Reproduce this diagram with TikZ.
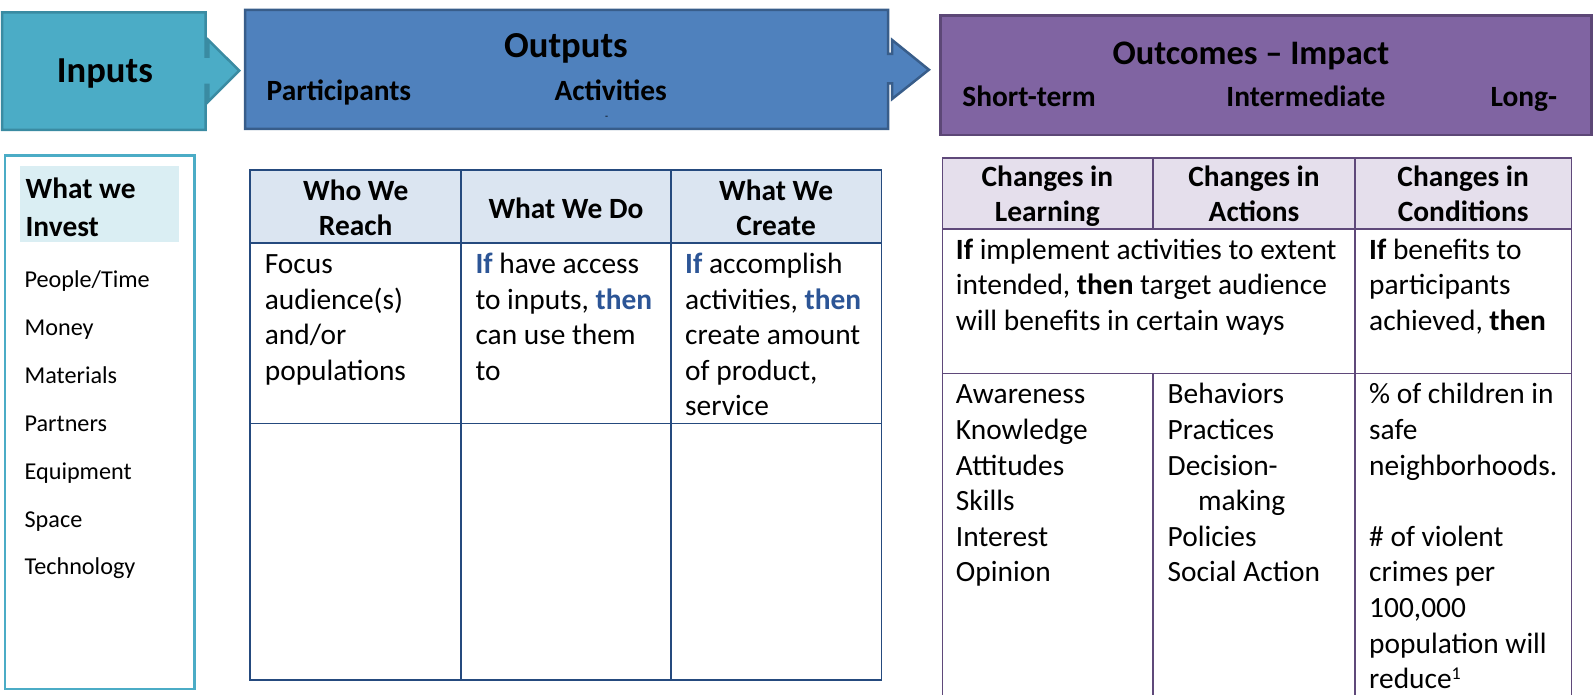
\documentclass[tikz,border=0pt]{standalone}
\usepackage{fontspec}
\setmainfont{Carlito}
\definecolor{inputsteal}{HTML}{4BACC6}
\definecolor{inputsedge}{HTML}{3A8BA2}
\definecolor{outputsblue}{HTML}{4F81BD}
\definecolor{outputsedge}{HTML}{385D8A}
\definecolor{outcomespurple}{HTML}{8064A2}
\definecolor{outcomesedge}{HTML}{5C4776}
\definecolor{investfill}{HTML}{DAEEF3}
\definecolor{bluerule}{HTML}{254A7E}
\definecolor{bluehead}{HTML}{DBE5F1}
\definecolor{purplerule}{HTML}{5F497A}
\definecolor{purplehead}{HTML}{E5DFEC}
\definecolor{ifblue}{HTML}{2C5596}
\newcommand\titlefont{\fontsize{36.6}{44}\selectfont\bfseries}
\newcommand\cellfont{\fontsize{29.4}{35.6}\selectfont}
\newcommand\listfont{\fontsize{24.2}{28}\selectfont}
\newcommand\kw[1]{\textbf{\textcolor{ifblue}{#1}}}

\begin{document}
\begin{tikzpicture}[x=1.018pt,y=-1.018pt,
  title/.style={font=\titlefont,anchor=base,yshift=-11.5pt,inner sep=0pt},
  sub/.style={font=\cellfont\bfseries,anchor=base,yshift=-9.5pt,inner sep=0pt},
  cell/.style={font=\cellfont,anchor=north west,align=left,inner sep=0pt,yshift=15.2pt},
  headcell/.style={font=\cellfont\bfseries,anchor=north,align=center,inner sep=0pt,yshift=15.2pt},
  listitem/.style={font=\listfont,anchor=base west,inner sep=0pt,yshift=-8pt}]
  \useasboundingbox (0,0) rectangle (1568,682);
  \clip (0,0) rectangle (1568,682);
  % arrow boxes
  \filldraw[fill=inputsteal,draw=inputsedge,line width=2.5pt] (2,12.1) -- (201.9,12.1) -- (201.9,55.7) -- (204.6,55.7) -- (204.6,39.3) -- (235.1,69.4) -- (204.6,99.9) -- (204.6,83.5) -- (201.9,83.5) -- (201.9,127.7) -- (2,127.7) -- cycle;
  \filldraw[fill=outputsblue,draw=outputsedge,line width=2.5pt] (240.7,9.8) -- (872.6,9.8) -- (872.6,53) -- (876.5,53) -- (876.5,39.3) -- (912.6,68.5) -- (876.5,97.2) -- (876.5,81.8) -- (872.6,81.8) -- (872.6,126.7) -- (240.7,126.7) -- cycle;
  \filldraw[fill=outcomespurple,draw=outcomesedge,line width=2.5pt] (924,15.4) rectangle (1563.6,132.6);
  \node[title] (inputs) at (103,70) {Inputs};
  \node[title] (outputs) at (556,45) {Outputs};
  \node[sub] (participants) at (333,89) {Participants};
  \node[sub] (activities) at (600,89) {Activities};
  \node[font=\fontsize{10}{12}\selectfont,inner sep=0pt] (dash) at (596,116) {-};
  \node[title,font=\fontsize{34.4}{41}\selectfont\bfseries] (outcomes) at (1229,52) {Outcomes – Impact};
  \node[sub] (shortterm) at (1011,95) {Short-term};
  \node[sub] (intermediate) at (1283,95) {Intermediate};
  \node[sub] (longterm) at (1497,95) {Long-};
  % inputs column
  \draw[inputsteal,line width=2.5pt] (5,153) rectangle (191,677);
  \fill[investfill] (20,163) rectangle (176,238);
  \node[cell,font=\fontsize{29.4}{37.7}\selectfont\bfseries] (invest) at (25,184) {\strut What we\\Invest};
  \node[listitem] (people) at (24,275) {People/Time};
  \node[listitem] (money) at (24,322) {Money};
  \node[listitem] (materials) at (24,369) {Materials};
  \node[listitem] (partners) at (24,416) {Partners};
  \node[listitem] (equipment) at (24,463) {Equipment};
  \node[listitem] (space) at (24,510) {Space};
  \node[listitem] (technology) at (24,557) {Technology};
  % outputs table
  \filldraw[fill=bluehead,draw=bluerule,line width=1.8pt] (246,167) rectangle (866,239);
  \draw[bluerule,line width=1.8pt] (246,167) rectangle (866,668);
  \draw[bluerule,line width=1.8pt] (246,416) -- (866,416);
  \draw[bluerule,line width=1.8pt] (453,167) -- (453,668);
  \draw[bluerule,line width=1.8pt] (659,167) -- (659,668);
  \node[headcell] (reach) at (349.5,187) {\strut Who We\\Reach};
  \node[headcell] (do) at (556,205) {\strut What We Do};
  \node[headcell] (create) at (762.5,187) {\strut What We\\Create};
  \node[cell] (focus) at (260,259) {\strut Focus\\audience(s)\\and/or\\populations};
  \node[cell] (access) at (467,259) {\strut\kw{If} have access\\to inputs, \kw{then}\\can use them\\to};
  \node[cell] (amount) at (673,259) {\strut\kw{If} accomplish\\activities, \kw{then}\\create amount\\of product,\\service};
  % outcomes table
  \filldraw[fill=purplehead,draw=purplerule,line width=1.8pt] (926,155) rectangle (1544,225);
  \draw[purplerule,line width=1.8pt] (926,155) rectangle (1544,700);
  \draw[purplerule,line width=1.8pt] (926,367) -- (1544,367);
  \draw[purplerule,line width=1.8pt] (1133,155) -- (1133,225);
  \draw[purplerule,line width=1.8pt] (1133,367) -- (1133,700);
  \draw[purplerule,line width=1.8pt] (1331,155) -- (1331,700);
  \node[headcell] (learning) at (1029,173) {\strut Changes in\\Learning};
  \node[headcell] (actions) at (1232,173) {\strut Changes in\\Actions};
  \node[headcell] (conditions) at (1437.5,173) {\strut Changes in\\Conditions};
  \node[cell] (implement) at (939,245) {\strut\textbf{If} implement activities to extent\\intended, \textbf{then} target audience\\will benefits in certain ways};
  \node[cell] (benefits) at (1345,245) {\strut\textbf{If} benefits to\\participants\\achieved, \textbf{then}};
  \node[cell] (awareness) at (939,387) {\strut Awareness\\Knowledge\\Attitudes\\Skills\\Interest\\Opinion};
  \node[cell] (behaviors) at (1147,387) {\strut Behaviors\\Practices\\Decision-\\\hspace*{30.5pt}making\\Policies\\Social Action};
  \node[cell] (children) at (1345,387) {\strut\% of children in\\safe\\neighborhoods.\\[35.6pt]\# of violent\\crimes per\\100,000\\population will\\reduce{\fontsize{18}{20}\selectfont\raisebox{9pt}{1}}};
\end{tikzpicture}
\end{document}
